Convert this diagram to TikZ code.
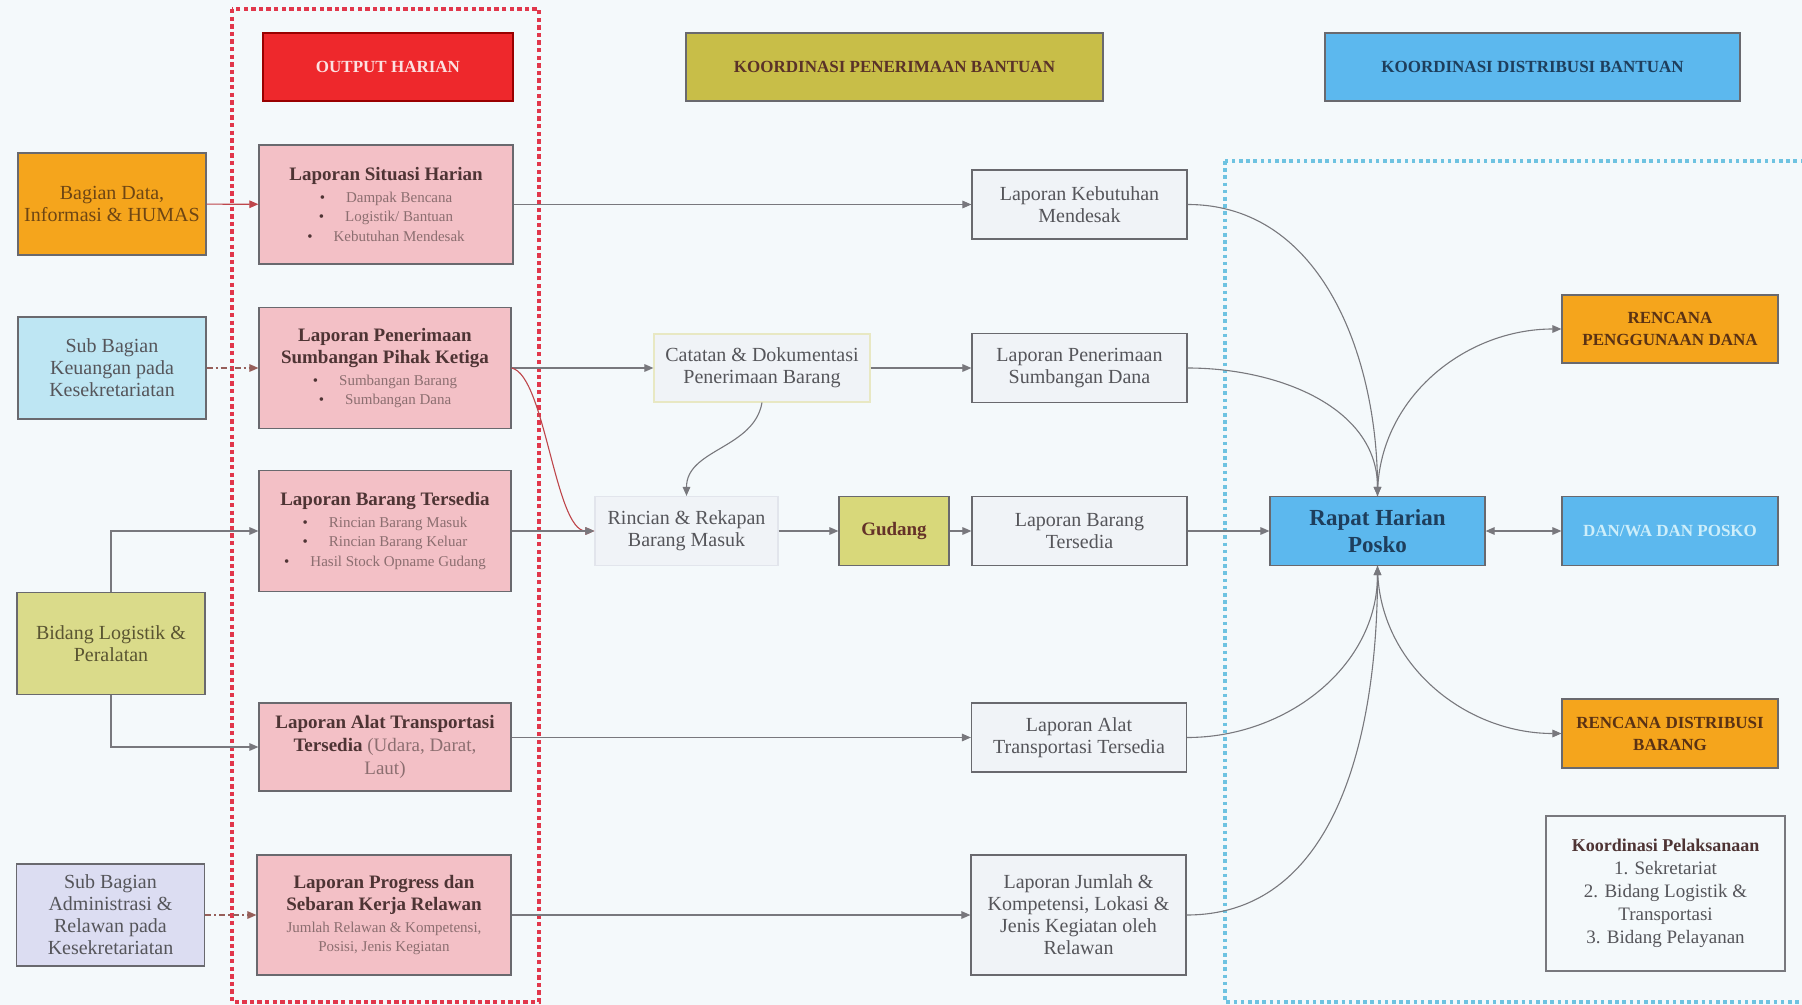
\documentclass[tikz,border=0pt]{standalone}
\usepackage{fontspec}
\setmainfont{Liberation Serif}
\usetikzlibrary{arrows.meta}
\definecolor{bg}{RGB}{244,249,251}
\definecolor{hdred}{RGB}{238,40,44}
\definecolor{hdolive}{RGB}{200,190,72}
\definecolor{hdblue}{RGB}{92,184,238}
\definecolor{orangebox}{RGB}{245,165,28}
\definecolor{lightblue}{RGB}{190,230,243}
\definecolor{ygreen}{RGB}{218,219,138}
\definecolor{lavender}{RGB}{220,221,242}
\definecolor{pinkbox}{RGB}{243,192,198}
\definecolor{gudangc}{RGB}{216,216,122}
\definecolor{whitebox}{RGB}{240,243,247}
\definecolor{boxline}{RGB}{105,105,110}
\definecolor{txtgray}{RGB}{85,85,90}
\definecolor{txtbrown}{RGB}{110,70,20}
\definecolor{ttlbrown}{RGB}{78,52,52}
\definecolor{bulbrown}{RGB}{140,110,112}
\definecolor{navy}{RGB}{30,62,92}
\definecolor{linegray}{RGB}{120,120,125}
\definecolor{redline}{RGB}{190,70,75}
\definecolor{brownline}{RGB}{150,95,90}
\definecolor{reddot}{RGB}{225,55,75}
\definecolor{bluedot}{RGB}{110,195,225}
\tikzset{
  box/.style={draw=boxline, line width=0.6pt, inner sep=1pt, align=center,
    font=\fontsize{10}{11}\selectfont, text=txtgray},
  pinkb/.style={box, fill=pinkbox, text=ttlbrown, font=\fontsize{7.5}{9.8}\selectfont},
  midb/.style={box, fill=whitebox, minimum width=107.5pt, minimum height=34.5pt},
  leftb/.style={box, minimum width=94pt, minimum height=51pt},
  hdr/.style={box, minimum height=34pt, font=\fontsize{8.5}{10}\selectfont\bfseries},
  arr/.style={draw=linegray, line width=0.55pt, -{Triangle[length=4.5pt,width=3.8pt]}},
}
\newcommand{\ttl}[1]{{\fontsize{9.5}{11}\selectfont\bfseries #1}}
\newcommand{\bul}[1]{{\textbullet\hspace{1.4em}\color{bulbrown}#1}}
\begin{document}
\begin{tikzpicture}[x=0.5pt,y=-0.5pt]
\useasboundingbox (0,0) rectangle (1802,1005);
\fill[bg] (0,0) rectangle (1802,1005);

% containers
\draw[reddot, line width=1.6pt, dash pattern=on 2.2pt off 1.6pt] (232,9) rectangle (539,1002);
\draw[bluedot, line width=1.6pt, dash pattern=on 1.8pt off 1.8pt] (1225,161) rectangle (1840,1002);

% headers
\node[hdr, fill=hdred, draw=red!60!black, minimum width=125pt, text={rgb,255:red,252;green,225;blue,225}] (hout) at (388,67) {OUTPUT HARIAN};
\node[hdr, fill=hdolive, minimum width=208.5pt, text={rgb,255:red,90;green,50;blue,40}] (hpen) at (894.5,67) {KOORDINASI PENERIMAAN BANTUAN};
\node[hdr, fill=hdblue, minimum width=207.5pt, text=navy] (hdis) at (1532.5,67) {KOORDINASI DISTRIBUSI BANTUAN};

% left column
\node[leftb, fill=orangebox, text=txtbrown] (bd) at (112,204) {Bagian Data,\\Informasi \& HUMAS};
\node[leftb, fill=lightblue] (sbk) at (112,368) {Sub Bagian\\Keuangan pada\\Kesekretariatan};
\node[leftb, fill=ygreen, text={rgb,255:red,90;green,85;blue,50}] (bl) at (111,643.5) {Bidang Logistik \&\\Peralatan};
\node[leftb, fill=lavender] (sba) at (110.5,915) {Sub Bagian\\Administrasi \&\\Relawan pada\\Kesekretariatan};

% pink column
\node[pinkb, minimum width=127pt, minimum height=59.5pt] (sit) at (386,204.5)
  {\ttl{Laporan Situasi Harian}\\[1pt]\bul{Dampak Bencana}\\\bul{Logistik/ Bantuan}\\\bul{Kebutuhan Mendesak}};
\node[pinkb, minimum width=126pt, minimum height=60.5pt] (pen) at (385,368)
  {\ttl{Laporan Penerimaan}\\[1.5pt]\ttl{Sumbangan Pihak Ketiga}\\[1pt]\bul{Sumbangan Barang}\\\bul{Sumbangan Dana}};
\node[pinkb, minimum width=126pt, minimum height=60.5pt] (bt) at (385,531)
  {\ttl{Laporan Barang Tersedia}\\[1pt]\bul{Rincian Barang Masuk}\\\bul{Rincian Barang Keluar}\\\bul{Hasil Stock Opname Gudang}};
\node[pinkb, minimum width=126pt, minimum height=44pt, font=\fontsize{9.5}{11.5}\selectfont] (at) at (385,747)
  {\textbf{Laporan Alat Transportasi}\\\textbf{Tersedia} {\color{bulbrown}(Udara, Darat,}\\{\color{bulbrown}Laut)}};
\node[pinkb, minimum width=127pt, minimum height=60pt] (prog) at (384,915)
  {\ttl{Laporan Progress dan}\\[1.5pt]\ttl{Sebaran Kerja Relawan}\\[1pt]{\color{bulbrown}Jumlah Relawan \& Kompetensi,}\\{\color{bulbrown}Posisi, Jenis Kegiatan}};

% middle
\node[box, fill=whitebox, draw={rgb,255:red,232;green,232;blue,195}, minimum width=108pt, minimum height=34pt] (cat) at (762,368) {Catatan \& Dokumentasi\\Penerimaan Barang};
\node[box, fill=whitebox, draw={rgb,255:red,226;green,229;blue,236}, minimum width=91.5pt, minimum height=34.5pt] (rin) at (686.5,531) {Rincian \& Rekapan\\Barang Masuk};
\node[box, fill=gudangc, minimum width=55pt, minimum height=34.5pt, font=\fontsize{9.5}{11}\selectfont\bfseries, text={rgb,255:red,100;green,50;blue,40}] (gud) at (894,531) {Gudang};
\node[midb] (keb) at (1079.5,204.5) {Laporan Kebutuhan\\Mendesak};
\node[midb] (dana) at (1079.5,368) {Laporan Penerimaan\\Sumbangan Dana};
\node[midb] (btm) at (1079.5,531) {Laporan Barang\\Tersedia};
\node[midb] (atm) at (1079,737.5) {Laporan Alat\\Transportasi Tersedia};
\node[midb, minimum height=60pt] (jum) at (1078.5,915) {Laporan Jumlah \&\\Kompetensi, Lokasi \&\\Jenis Kegiatan oleh\\Relawan};

% right
\node[box, fill=hdblue, minimum width=107.5pt, minimum height=34.5pt, font=\fontsize{11.5}{13.5}\selectfont\bfseries, text=navy] (rap) at (1377.5,531) {Rapat Harian\\Posko};
\node[box, fill=hdblue, minimum width=108pt, minimum height=34.5pt, font=\fontsize{8.5}{10}\selectfont\bfseries, text={rgb,255:red,205;green,238;blue,250}] (dan) at (1670,531) {DAN/WA DAN POSKO};
\node[box, fill=orangebox, minimum width=108pt, minimum height=34pt, font=\fontsize{8.5}{11}\selectfont\bfseries, text={rgb,255:red,90;green,50;blue,20}] (rpd) at (1670,329) {RENCANA\\PENGGUNAAN DANA};
\node[box, fill=orangebox, minimum width=108pt, minimum height=34.5pt, font=\fontsize{8.5}{11}\selectfont\bfseries, text={rgb,255:red,90;green,50;blue,20}] (rdb) at (1670,733.5) {RENCANA DISTRIBUSI\\BARANG};
\node[box, fill=bg, draw={rgb,255:red,120;green,120;blue,125}, minimum width=119.5pt, minimum height=77.5pt, font=\fontsize{9.5}{11.5}\selectfont] (kp) at (1665.5,893.5)
  {{\bfseries\color{ttlbrown}\fontsize{9}{11}\selectfont Koordinasi Pelaksanaan}\\1. Sekretariat\\2. Bidang Logistik \&\\Transportasi\\3. Bidang Pelayanan};

% connectors: left -> pink
\draw[arr, draw=redline] (bd) -- (sit);
\draw[arr, draw=brownline, dash pattern=on 3pt off 1.5pt on 1pt off 1.5pt] (sbk) -- (pen);
\draw[arr] (bl.north) |- (bt.west);
\draw[arr] (bl.south) |- (at.west);
\draw[arr, draw=brownline, dash pattern=on 3pt off 1.5pt on 1pt off 1.5pt] (sba) -- (prog);

% pink -> middle
\draw[arr] (sit) -- (keb);
\draw[arr] (pen) -- (cat);
\draw[arr, draw=redline] (pen.east) .. controls (545,375) and (555,531) .. (rin.west);
\draw[arr] (bt) -- (rin);
\draw[arr] (cat) -- (dana);
\draw[arr] (cat.south) to[out=-100,in=90] (rin.north);
\draw[arr] (rin) -- (gud);
\draw[arr] (gud) -- (btm);
\draw[arr] (at.east |- atm.west) -- (atm.west);
\draw[arr] (prog) -- (jum);

% middle -> rapat
\draw[arr] (keb.east) to[out=0,in=90] (rap.north);
\draw[arr] (dana.east) to[out=0,in=90] (rap.north);
\draw[arr] (btm) -- (rap);
\draw[arr] (atm.east) to[out=0,in=-90] (rap.south);
\draw[arr] (jum.east) to[out=0,in=-90] (rap.south);

% rapat -> outputs
\draw[arr] (rap.north) to[out=90,in=180] (rpd.west);
\draw[arr] (rap.south) to[out=-90,in=180] (rdb.west);
\draw[arr, {Triangle[length=4.5pt,width=3.8pt]}-{Triangle[length=4.5pt,width=3.8pt]}] (rap) -- (dan);
\end{tikzpicture}
\end{document}
